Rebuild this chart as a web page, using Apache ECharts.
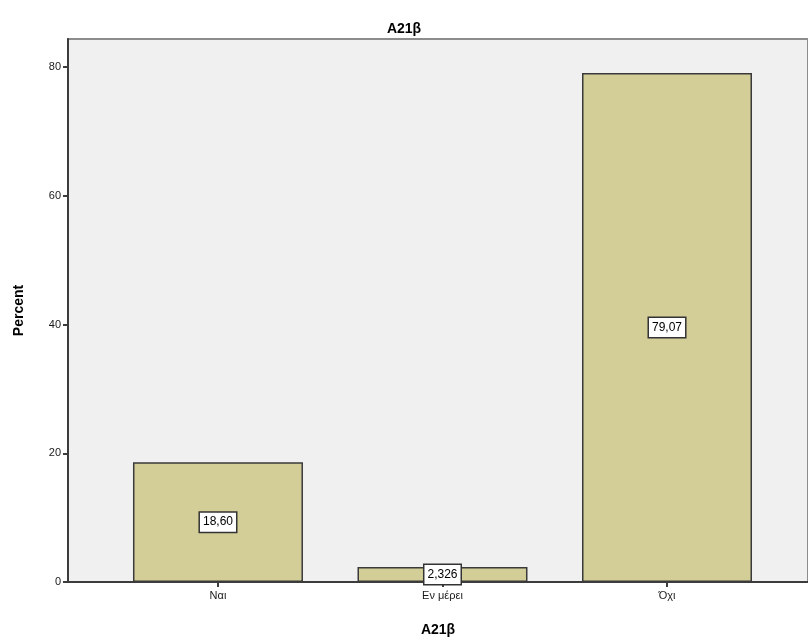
<!DOCTYPE html>
<html>
<head>
<meta charset="utf-8">
<script src="https://cdn.jsdelivr.net/npm/echarts@6/dist/echarts.min.js"></script>
<style>
  html, body { margin: 0; padding: 0; background: #fff; }
  #chart { width: 808px; height: 642px; }
</style>
</head>
<body>
<div id="chart"></div>
<script>
// A21β - percent per answer
var categories = ["Ναι", "Εν μέρει", "Όχι"];
var percents = [18.60, 2.326, 79.07];
var yTicks = [0, 20, 40, 60, 80];

var font = "Liberation Sans, Arial, sans-serif";

var myChart = echarts.init(document.getElementById("chart"));
myChart.setOption({
  animation: false,
  textStyle: { fontFamily: font },
  title: {
    text: "A21β",
    left: "center",
    top: 17,
    textStyle: { fontSize: 14, fontWeight: "bold", color: "#000", fontFamily: font }
  },
  grid: {
    left: 68,
    top: 39,
    right: 0,
    bottom: 60,
    show: true,
    backgroundColor: "#f0f0f0",
    borderColor: "#8c8c8c",
    borderWidth: 2
  },
  xAxis: {
    type: "value",
    min: -0.668,
    max: 2.628,
    name: "A21β",
    nameLocation: "middle",
    nameGap: 41,
    nameTextStyle: { fontSize: 14, fontWeight: "bold", color: "#000" },
    splitLine: { show: false },
    axisLine: { show: true, onZero: false, lineStyle: { color: "#3c3c3c", width: 2 } },
    axisTick: { show: true, length: 5, customValues: [0, 1, 2], lineStyle: { color: "#3c3c3c", width: 2 } },
    axisLabel: {
      customValues: [0, 1, 2],
      fontSize: 11,
      color: "#1a1a1a",
      margin: 8,
      formatter: function (v) { return categories[Math.round(v)]; }
    }
  },
  yAxis: {
    type: "value",
    min: 0,
    max: 84.35,
    name: "Percent",
    nameLocation: "middle",
    nameGap: 42,
    nameTextStyle: { fontSize: 14, fontWeight: "bold", color: "#000" },
    splitLine: { show: false },
    axisLine: { show: true, onZero: false, lineStyle: { color: "#3c3c3c", width: 2 } },
    axisTick: { show: true, length: 5, customValues: yTicks, lineStyle: { color: "#3c3c3c", width: 2 } },
    axisLabel: { customValues: yTicks, fontSize: 11, color: "#1a1a1a", margin: 7 }
  },
  series: [
    {
      type: "bar",
      barWidth: 170,
      data: percents.map(function (p, i) { return [i, p]; }),
      itemStyle: { color: "#d3ce97", borderColor: "#3a3a3a", borderWidth: 1.5 },
      label: {
        show: true,
        position: "inside",
        formatter: function (p) { return p.value[1].toPrecision(4).replace(".", ","); },
        fontSize: 12,
        color: "#000",
        backgroundColor: "#fff",
        borderColor: "#333",
        borderWidth: 1.5,
        padding: [4, 3, 3, 3]
      }
    }
  ]
});
</script>
</body>
</html>
